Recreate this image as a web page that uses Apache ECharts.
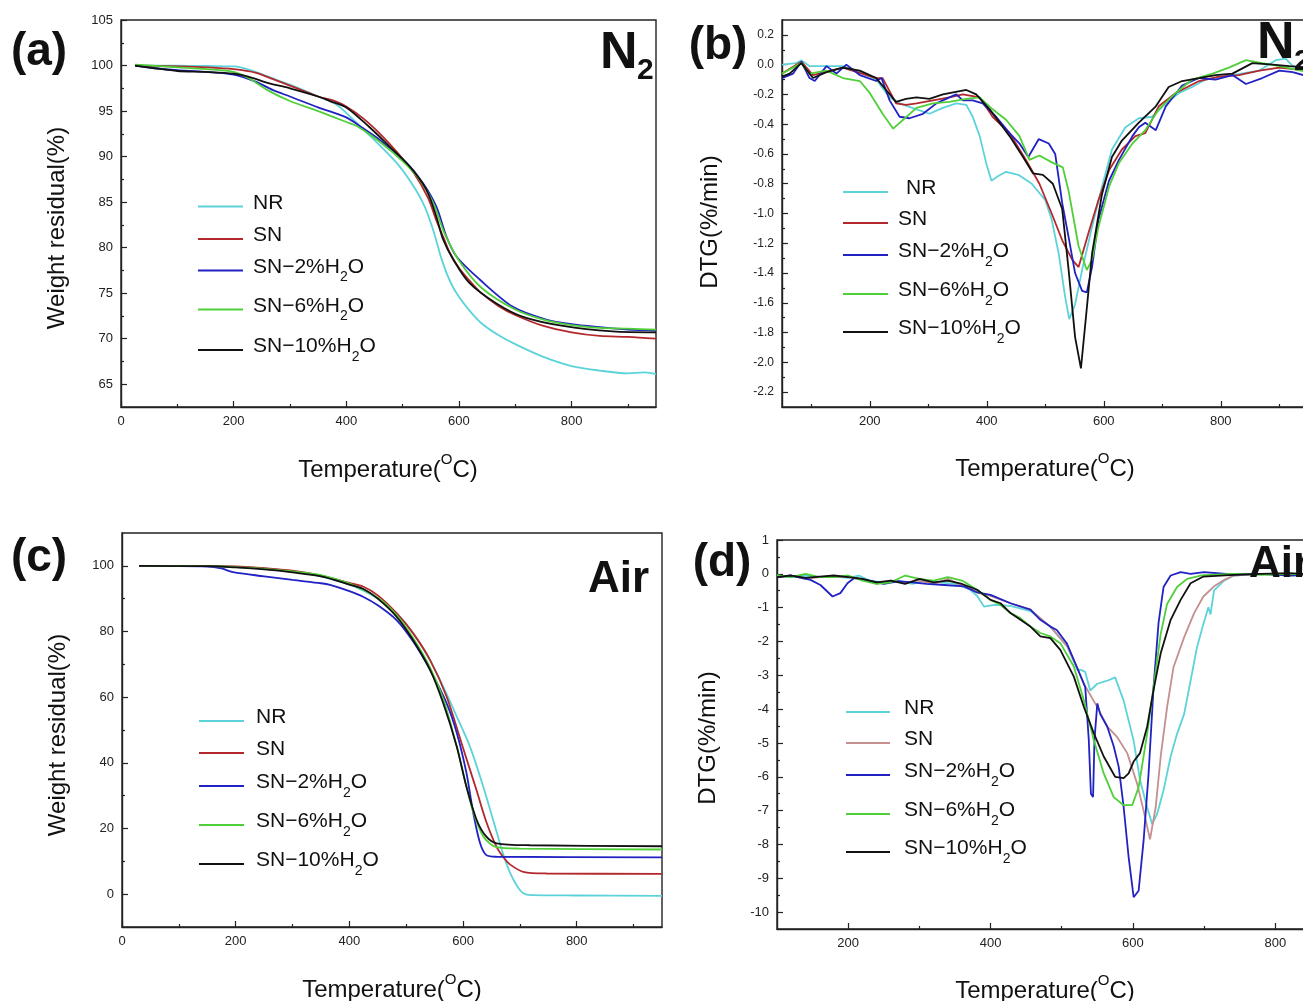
<!DOCTYPE html>
<html><head><meta charset="utf-8">
<script src="https://cdn.jsdelivr.net/npm/echarts@6/dist/echarts.min.js"></script>
<style>html,body{margin:0;padding:0;background:#fff}#c{width:1303px;height:1001px}</style>
</head><body><div id="c"></div>
<script>
// ---------- data ----------
const seriesNames = ['NR','SN','SN-2%H2O','SN-6%H2O','SN-10%H2O'];

// tick values
const xMajTG = [0,200,400,600,800];
const xMinTG = [100,300,500,700,900];
const xMajDTG = [200,400,600,800];
const xMinB = [100,300,500,700,900];
const xMinD = [300,500,700];
const yMajA = [65,70,75,80,85,90,95,100,105];
const yMinA = [67.5,72.5,77.5,82.5,87.5,92.5,97.5,102.5];
const yMajB = [0.2,0,-0.2,-0.4,-0.6,-0.8,-1.0,-1.2,-1.4,-1.6,-1.8,-2.0,-2.2];
const yMinB = [0.1,-0.1,-0.3,-0.5,-0.7,-0.9,-1.1,-1.3,-1.5,-1.7,-1.9,-2.1];
const yMajC = [0,20,40,60,80,100];
const yMinC = [10,30,50,70,90];
const yMajD = [1,0,-1,-2,-3,-4,-5,-6,-7,-8,-9,-10];
const yMinD = [0.5,-0.5,-1.5,-2.5,-3.5,-4.5,-5.5,-6.5,-7.5,-8.5,-9.5];

// (a) TG in N2
const a_NR = [[25,100],[100,100],[150,99.95],[200,99.9],[230,99.5],[260,98.8],[300,97.9],[350,96.6],[380,95.8],[400,94.8],[430,93.0],[460,91.2],[495,88.9],[525,86.2],[540,84.4],[555,81.8],[570,78.6],[585,76.2],[600,74.6],[620,73.0],[640,71.7],[670,70.4],[700,69.4],[750,68.0],[800,67.0],[850,66.5],[900,66.2],[930,66.3],[950,66.1]];
const a_SN = [[25,100],[100,99.9],[150,99.8],[200,99.6],[240,99.2],[270,98.5],[300,97.8],[350,96.6],[380,96.1],[400,95.5],[430,94.2],[460,92.5],[490,90.5],[520,88.2],[545,85.5],[560,83.0],[572,81.2],[585,79.3],[600,77.8],[620,76.3],[640,75.0],[670,73.6],[700,72.6],[750,71.4],[800,70.7],[850,70.3],[900,70.2],[950,70.0]];
const a_SN2 = [[25,100],[60,99.7],[100,99.5],[150,99.3],[200,99.0],[240,98.2],[270,97.3],[300,96.6],[350,95.4],[400,94.3],[430,93.1],[460,91.8],[507,89.3],[536,87.1],[560,84.5],[578,81.2],[596,79.0],[637,76.5],[696,73.5],[755,72.1],[800,71.6],[844,71.3],[900,71.0],[950,70.9]];
const a_SN6 = [[25,100.1],[100,99.8],[150,99.6],[200,99.3],[230,98.5],[260,97.3],[300,96.1],[350,95.0],[400,93.8],[420,93.3],[460,91.6],[500,89.5],[530,87.5],[555,84.8],[575,81.5],[600,78.6],[640,75.6],[700,73.2],[750,72.1],[800,71.5],[850,71.2],[900,71.1],[950,71.0]];
const a_SN10 = [[25,100],[60,99.7],[100,99.4],[150,99.3],[200,99.1],[230,98.7],[260,98.1],[300,97.5],[350,96.6],[371,96.1],[400,95.4],[440,93.3],[477,91.1],[513,88.9],[542,86.4],[560,83.4],[572,80.9],[590,78.7],[619,76.1],[666,73.9],[714,72.4],[785,71.4],[873,70.8],[950,70.7]];

// (b) DTG in N2
const b_NR = [[50,0],[74,0.01],[83,0.03],[97,-0.01],[126,-0.01],[154,-0.01],[183,-0.05],[211,-0.10],[234,-0.22],[251,-0.26],[280,-0.30],[302,-0.33],[325,-0.29],[348,-0.26],[365,-0.27],[376,-0.35],[388,-0.48],[399,-0.66],[408,-0.78],[419,-0.75],[433,-0.72],[454,-0.74],[477,-0.80],[500,-0.91],[511,-1.04],[523,-1.27],[534,-1.56],[541,-1.71],[551,-1.61],[563,-1.38],[580,-1.09],[597,-0.82],[614,-0.57],[637,-0.42],[660,-0.36],[683,-0.35],[706,-0.26],[729,-0.19],[751,-0.15],[774,-0.10],[820,-0.07],[866,-0.04],[894,0.03],[911,0.04],[923,-0.01],[950,-0.04]];
const b_SN = [[50,-0.06],[83,0.02],[103,-0.07],[154,-0.02],[211,-0.09],[222,-0.09],[245,-0.26],[262,-0.27],[280,-0.26],[308,-0.24],[336,-0.22],[359,-0.20],[388,-0.22],[410,-0.35],[439,-0.46],[467,-0.64],[490,-0.80],[511,-1.00],[529,-1.18],[546,-1.31],[557,-1.36],[574,-1.13],[591,-0.91],[609,-0.71],[631,-0.57],[654,-0.48],[671,-0.46],[694,-0.28],[723,-0.19],[763,-0.11],[797,-0.08],[831,-0.07],[866,-0.04],[900,-0.02],[950,-0.04]];
const b_SN2 = [[50,-0.09],[69,-0.06],[83,0.02],[97,-0.09],[106,-0.11],[126,-0.01],[143,-0.06],[160,0.0],[183,-0.07],[211,-0.11],[220,-0.09],[234,-0.24],[251,-0.35],[268,-0.36],[291,-0.33],[314,-0.26],[336,-0.22],[348,-0.20],[359,-0.24],[376,-0.24],[393,-0.26],[416,-0.35],[439,-0.46],[456,-0.53],[471,-0.62],[489,-0.50],[506,-0.53],[517,-0.60],[529,-0.93],[540,-1.16],[551,-1.40],[563,-1.52],[571,-1.53],[580,-1.36],[591,-1.04],[609,-0.78],[626,-0.64],[649,-0.48],[660,-0.42],[671,-0.39],[689,-0.44],[706,-0.28],[734,-0.14],[763,-0.09],[791,-0.10],[820,-0.07],[843,-0.13],[871,-0.09],[900,-0.04],[923,-0.05],[950,-0.08]];
const b_SN6 = [[50,-0.06],[83,0.01],[97,-0.06],[126,-0.04],[154,-0.09],[183,-0.11],[200,-0.19],[222,-0.33],[240,-0.43],[257,-0.37],[280,-0.29],[308,-0.26],[336,-0.25],[365,-0.23],[388,-0.22],[410,-0.30],[433,-0.37],[456,-0.48],[473,-0.64],[490,-0.61],[513,-0.66],[530,-0.69],[540,-0.85],[557,-1.22],[571,-1.38],[580,-1.31],[591,-1.09],[609,-0.82],[626,-0.66],[649,-0.53],[671,-0.44],[694,-0.30],[723,-0.19],[751,-0.10],[786,-0.06],[814,-0.02],[843,0.03],[871,0.01],[900,-0.01],[950,-0.05]];
const b_SN10 = [[50,-0.08],[63,-0.06],[83,0.01],[103,-0.09],[126,-0.05],[154,-0.02],[183,-0.04],[211,-0.09],[228,-0.17],[245,-0.25],[262,-0.23],[280,-0.22],[302,-0.23],[325,-0.20],[365,-0.17],[382,-0.20],[405,-0.30],[439,-0.48],[462,-0.62],[479,-0.73],[496,-0.74],[513,-0.80],[529,-0.97],[540,-1.38],[551,-1.83],[561,-2.04],[569,-1.72],[580,-1.27],[597,-0.87],[614,-0.62],[631,-0.51],[660,-0.39],[689,-0.28],[711,-0.15],[734,-0.11],[763,-0.09],[791,-0.07],[820,-0.06],[854,0.01],[889,0.0],[917,-0.01],[950,-0.02]];

// (c) TG in air
const c_NR = [[30,100],[150,100],[200,99.7],[250,99.2],[300,98.3],[350,96.8],[400,94.3],[424,92.5],[450,90.0],[483,85.5],[512,79.5],[542,71.3],[571,61.0],[589,54.1],[612,45.0],[636,32.5],[659,19.0],[670,12.5],[683,6.4],[695,2.5],[706,0.3],[720,-0.3],[800,-0.4],[950,-0.5]];
const c_SN = [[30,100],[150,100],[200,99.8],[250,99.3],[300,98.5],[350,97.0],[400,94.8],[424,93.7],[450,91.0],[483,85.6],[512,79.5],[542,71.3],[571,60.2],[600,44.5],[624,31.5],[641,22.0],[659,14.4],[672,11.0],[683,9.0],[706,6.8],[747,6.3],[950,6.2]];
const c_SN2 = [[30,100],[150,99.8],[175,99.2],[190,98.3],[200,97.9],[250,96.8],[300,95.7],[350,94.7],[366,94.2],[400,92.3],[424,90.6],[450,88.0],[483,83.5],[512,77.0],[542,68.3],[571,58.2],[589,49.1],[606,36.9],[618,24.7],[630,15.5],[641,11.9],[659,11.4],[950,11.2]];
const c_SN6 = [[30,100],[150,99.9],[200,99.6],[250,99.1],[300,98.3],[350,97.2],[400,94.6],[450,90.3],[483,85.0],[512,78.0],[542,69.0],[565,59.5],[589,45.0],[600,37.0],[618,25.0],[636,17.5],[659,14.3],[700,13.9],[950,13.6]];
const c_SN10 = [[30,100],[150,99.9],[200,99.5],[250,98.9],[300,98.0],[350,96.8],[400,94.3],[424,93.0],[450,90.0],[483,84.5],[512,77.4],[542,68.3],[565,58.2],[589,44.9],[606,32.7],[624,22.6],[641,17.5],[659,15.5],[718,14.9],[950,14.6]];

// (d) DTG in air
const d_NR = [[100,-0.05],[120,-0.1],[140,-0.05],[160,-0.1],[180,-0.08],[200,-0.12],[215,-0.05],[230,-0.2],[250,-0.25],[270,-0.2],[290,-0.3],[310,-0.2],[330,-0.25],[350,-0.3],[370,-0.45],[381,-0.65],[391,-0.97],[405,-0.92],[428,-0.95],[456,-1.1],[484,-1.56],[508,-2.15],[522,-2.84],[527,-2.84],[533,-2.9],[540,-3.45],[550,-3.25],[564,-3.16],[575,-3.06],[587,-3.75],[601,-4.93],[610,-6.1],[620,-6.9],[627,-7.4],[634,-7.1],[643,-6.4],[653,-5.4],[662,-4.73],[672,-4.14],[681,-3.16],[690,-2.17],[699,-1.48],[706,-0.99],[709,-1.2],[714,-0.49],[728,-0.2],[742,-0.05],[780,0.0],[820,-0.05],[860,0.0]];
const d_SN = [[100,-0.1],[120,-0.05],[140,-0.15],[160,-0.1],[180,-0.1],[200,-0.08],[220,-0.15],[240,-0.3],[260,-0.2],[280,-0.25],[300,-0.2],[320,-0.3],[340,-0.15],[360,-0.35],[381,-0.55],[400,-0.65],[428,-0.87],[456,-1.06],[484,-1.56],[508,-2.15],[522,-2.8],[531,-3.25],[550,-3.94],[564,-4.52],[578,-4.83],[592,-5.3],[606,-6.21],[615,-7.0],[624,-7.85],[632,-6.9],[639,-5.4],[648,-3.94],[657,-2.76],[672,-1.87],[686,-1.16],[699,-0.67],[714,-0.37],[728,-0.18],[742,-0.05],[780,0.0],[820,-0.03],[860,0.0]];
const d_SN2 = [[100,-0.1],[120,-0.05],[147,-0.18],[161,-0.33],[178,-0.67],[189,-0.57],[199,-0.28],[208,-0.13],[230,-0.2],[250,-0.3],[270,-0.22],[290,-0.25],[310,-0.3],[335,-0.33],[363,-0.37],[381,-0.55],[400,-0.62],[428,-0.87],[456,-1.06],[470,-1.36],[484,-1.56],[493,-1.66],[507,-2.05],[521,-2.74],[533,-3.35],[538,-4.91],[541,-6.5],[544,-6.6],[546,-4.9],[550,-3.83],[554,-4.14],[564,-4.52],[573,-5.1],[580,-5.7],[587,-6.9],[594,-8.38],[601,-9.56],[608,-9.37],[615,-7.89],[622,-5.9],[629,-3.35],[636,-1.45],[643,-0.39],[653,-0.05],[667,0.05],[681,0.0],[700,0.05],[740,-0.02],[780,0.0],[820,-0.05],[860,-0.02]];
const d_SN6 = [[100,-0.05],[120,-0.1],[140,0.0],[160,-0.1],[180,-0.1],[200,-0.05],[220,-0.2],[240,-0.3],[260,-0.25],[280,-0.05],[300,-0.15],[320,-0.2],[340,-0.1],[360,-0.2],[381,-0.47],[400,-0.77],[414,-0.92],[428,-1.16],[442,-1.31],[456,-1.56],[470,-1.75],[484,-1.85],[498,-2.05],[517,-2.74],[531,-3.73],[545,-4.91],[559,-5.9],[573,-6.6],[587,-6.84],[599,-6.84],[608,-6.31],[620,-4.73],[629,-3.35],[639,-1.78],[648,-0.89],[662,-0.39],[676,-0.15],[695,-0.05],[740,0.0],[780,-0.03],[820,0.0],[860,-0.05]];
const d_SN10 = [[100,-0.1],[120,-0.05],[140,-0.12],[160,-0.08],[180,-0.05],[200,-0.1],[220,-0.15],[240,-0.25],[260,-0.2],[280,-0.3],[300,-0.15],[320,-0.25],[340,-0.2],[360,-0.3],[381,-0.47],[400,-0.77],[414,-0.87],[428,-1.16],[442,-1.36],[456,-1.56],[470,-1.85],[484,-1.9],[498,-2.25],[517,-3.04],[531,-3.93],[545,-4.71],[559,-5.40],[575,-6.0],[587,-6.04],[594,-5.90],[601,-5.55],[610,-5.30],[620,-4.52],[629,-3.43],[639,-2.35],[653,-1.36],[667,-0.77],[681,-0.28],[699,-0.08],[742,-0.03],[780,0.0],[820,0.02],[860,-0.02]];

// ---------- styles / layout ----------
const FONT = 'Liberation Sans';
const colorsMain = ['#5cd3d9','#b3282c','#2121c4','#4fcf38','#111111'];
const colorsD = ['#5cd3d9','#c48f8f','#2121c4','#4fcf38','#111111'];

const panels = [
  {id:'a', grid:{left:121,top:20,width:535,height:387}, x:[0,950], y:[62.5,105],
   xMaj:xMajTG, xMin:xMinTG, yMaj:yMajA, yMin:yMinA, yFmt:v=>String(v), yFs:13,
   data:[a_NR,a_SN,a_SN2,a_SN6,a_SN10], colors:colorsMain, smooth:true,
   leg:{left:197, w:45, gaps:[10,10,10,10,10], ys:[206.5,239,270.5,309.5,350]}},
  {id:'b', grid:{left:782,top:20,width:526.5,height:387}, x:[50,950], y:[-2.3,0.3],
   xMaj:xMajDTG, xMin:xMinB, yMaj:yMajB, yMin:yMinB, yFmt:v=>v.toFixed(1), yFs:12,
   data:[b_NR,b_SN,b_SN2,b_SN6,b_SN10], colors:colorsMain, smooth:false,
   leg:{left:842, w:45, gaps:[18,10,10,10,10], ys:[192,223,255,294,332]}},
  {id:'c', grid:{left:122,top:533,width:540,height:394}, x:[0,950], y:[-10,110],
   xMaj:xMajTG, xMin:xMinTG, yMaj:yMajC, yMin:yMinC, yFmt:v=>String(v), yFs:13,
   data:[c_NR,c_SN,c_SN2,c_SN6,c_SN10], colors:colorsMain, smooth:true,
   leg:{left:198, w:45, gaps:[12,12,12,12,12], ys:[721,753,786,825,864]}},
  {id:'d', grid:{left:777,top:540,width:541,height:389}, x:[100,860], y:[-10.5,1],
   xMaj:xMajDTG, xMin:xMinD, yMaj:yMajD, yMin:yMinD, yFmt:v=>String(v), yFs:13,
   data:[d_NR,d_SN,d_SN2,d_SN6,d_SN10], colors:colorsD, smooth:false,
   leg:{left:845, w:44, gaps:[14,14,14,14,14], ys:[712,743,775,814,852]}}
];

const grids=[], xAxes=[], yAxes=[], series=[], legends=[];
function axisPair(dim, g, ext, maj, minr, fmt, fs){
  const pos = dim==='x' ? 'bottom' : 'left';
  const common = {type:'value', gridIndex:g, min:ext[0], max:ext[1], position:pos, splitLine:{show:false}, splitArea:{show:false}};
  return [
    Object.assign({}, common, {
      axisLine:{show:true,onZero:false,lineStyle:{color:'#222',width:1.4}},
      axisTick:{show:true,inside:true,length:6,customValues:maj,lineStyle:{color:'#222',width:1.2}},
      axisLabel:{show:true,customValues:maj,formatter:fmt,margin:8,fontSize:fs,color:'#222',fontFamily:FONT}
    }),
    Object.assign({}, common, {
      axisLine:{show:false,onZero:false},
      axisTick:{show:true,inside:true,length:3,customValues:minr,lineStyle:{color:'#222',width:1.2}},
      axisLabel:{show:false}
    })
  ];
}
function legendLabel(name){
  const base = name.split('|')[0];
  if (base.indexOf('H2O') >= 0) {
    const pre = base.replace('H2O','').replace('-','\u2212');
    return '{a|' + pre + 'H}{s|2}{m|O}';
  }
  return '{a|' + base + '}';
}
panels.forEach((p, pi) => {
  grids.push(Object.assign({show:true, borderColor:'#222', borderWidth:1.4, backgroundColor:'transparent', outerBoundsMode:'none', containLabel:false}, p.grid));
  xAxes.push(...axisPair('x', pi, p.x, p.xMaj, p.xMin, v=>String(v), 13));
  yAxes.push(...axisPair('y', pi, p.y, p.yMaj, p.yMin, p.yFmt, p.yFs));
  p.data.forEach((d, i) => {
    const nm = seriesNames[i] + '|' + p.id;
    series.push({
      type:'line', name:nm, xAxisIndex:2*pi, yAxisIndex:2*pi, data:d,
      symbol:'none', showSymbol:false, clip:true,
      smooth:p.smooth ? 0.3 : false,
      lineStyle:{width:1.8, color:p.colors[i]}, itemStyle:{color:p.colors[i]},
      emphasis:{disabled:true}, animation:false
    });
    legends.push({
      show:true, orient:'vertical', left:p.leg.left, top:p.leg.ys[i]-14, padding:0,
      itemWidth:p.leg.w, itemHeight:28, itemGap:0, selectedMode:false,
      itemStyle:{opacity:0, borderWidth:0},
      lineStyle:{width:2},
      data:[nm], formatter:legendLabel,
      textStyle:{color:'#111', fontFamily:FONT, fontSize:21, rich:{
        a:{fontSize:21, fontFamily:FONT, color:'#111', lineHeight:28, verticalAlign:'top', padding:[0,0,0,p.leg.gaps[i]-5]},
        m:{fontSize:21, fontFamily:FONT, color:'#111', lineHeight:28, verticalAlign:'top'},
        s:{fontSize:14, fontFamily:FONT, color:'#111', lineHeight:10, verticalAlign:'bottom'}
      }}
    });
  });
});

function tempTitle(x, y){
  return {type:'text', x, y, z:100, style:{
    text:'{m|Temperature(}{s|O}{m|C)}', align:'center', verticalAlign:'middle',
    rich:{ m:{fontSize:24, fontFamily:FONT, fill:'#111', lineHeight:30, verticalAlign:'bottom'},
           s:{fontSize:15, fontFamily:FONT, fill:'#111', lineHeight:16, verticalAlign:'top'} } }};
}
function yTitle(text, x, y, fs){
  return {type:'text', x, y, rotation:Math.PI/2, z:100, style:{
    text, align:'center', verticalAlign:'middle', font:fs+'px "'+FONT+'"', fill:'#111'}};
}
function bigText(text, x, y, fs, align){
  return {type:'text', x, y, z:100, style:{
    text, align:align||'left', verticalAlign:'middle', font:'bold '+fs+'px "'+FONT+'"', fill:'#111'}};
}
const graphics = [
  bigText('(a)', 39, 52, 46, 'center'),
  bigText('(b)', 718, 46, 46, 'center'),
  bigText('(c)', 39, 558, 46, 'center'),
  bigText('(d)', 722, 563, 46, 'center'),
  bigText('N', 600, 54, 52), bigText('2', 637, 71, 30),
  bigText('N', 1257, 44, 52), bigText('2', 1294, 62, 30),
  bigText('Air', 588, 580, 44),
  bigText('Air', 1249, 565, 44),
  tempTitle(388, 467), tempTitle(1045, 466), tempTitle(392, 987), tempTitle(1045, 988),
  yTitle('Weight residual(%)', 57, 228, 24),
  yTitle('DTG(%/min)', 710, 222, 24),
  yTitle('Weight residual(%)', 58, 735, 24),
  yTitle('DTG(%/min)', 708, 738, 24)
];

const chart = echarts.init(document.getElementById('c'), null, {renderer:'canvas'});
chart.setOption({
  backgroundColor:'#ffffff', animation:false,
  grid:grids, xAxis:xAxes, yAxis:yAxes, series, legend:legends, graphic:graphics,
  tooltip:{show:false}
});
</script></body></html>
